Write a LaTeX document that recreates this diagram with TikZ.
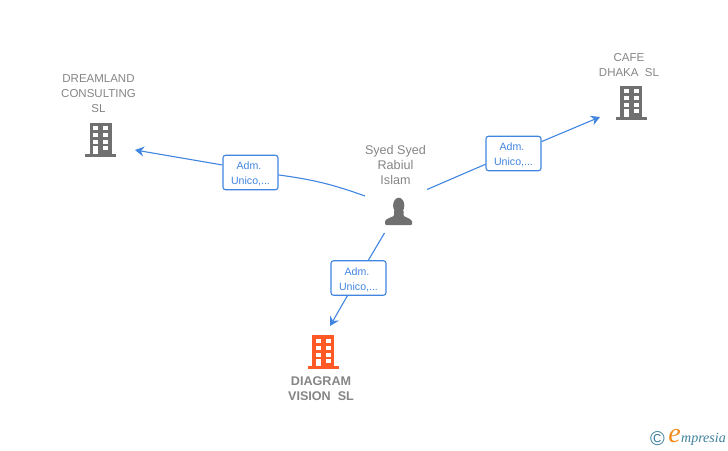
\documentclass[tikz,border=0pt]{standalone}
\usepackage{fontspec}
\setmainfont{Liberation Sans}
\newfontfamily\logofont{Liberation Serif}
\usepackage{xcolor}
\definecolor{linkblue}{HTML}{4085E0}
\definecolor{labelgray}{HTML}{858585}
\definecolor{icongray}{HTML}{707070}
\definecolor{iconorange}{HTML}{FF5A26}
\definecolor{logoblue}{HTML}{3C7F9E}
\definecolor{logoorange}{HTML}{F08A1D}
\usetikzlibrary{arrows.meta}
\tikzset{link/.style={draw=linkblue, line width=1.1pt}}
\tikzset{linkend/.style={link, -{Stealth[length=9pt, width=10pt, inset=3pt]}}}
\tikzset{role/.style={draw=linkblue, line width=1.1pt, fill=white, rounded corners=2.5pt,
  minimum width=55pt, minimum height=34.5pt, inner sep=0pt, align=center,
  text=linkblue, font=\fontsize{10.6}{15}\selectfont}}
\tikzset{entity/.style={text=labelgray, align=center, inner sep=0pt, font=\fontsize{11.5}{15}\selectfont}}
\tikzset{building/.pic={
  \fill[#1] (-11,-17) rectangle (11,14);
  \fill[#1] (-15.5,14) rectangle (15.5,17);
  \foreach \y in {-13.5,-6.5,.5} {
    \fill[white] (-7.5,\y) rectangle (-2.5,\y+4);
    \fill[white] (2.5,\y) rectangle (7.5,\y+4);
  }
  \fill[white] (-7.5,6.5) rectangle (-2.5,14);
  \fill[white] (2.5,6.5) rectangle (7.5,10.5);
}}

\begin{document}
\begin{tikzpicture}[x=1pt, y=-1pt]
\useasboundingbox (0,0) rectangle (728,450);

\node[entity] (dreamland) at (98.5,94) {DREAMLAND\\CONSULTING\\SL};
\pic at (100.5,139.5) {building=icongray};
\node[entity] (cafe) at (629,65.5) {CAFE\\DHAKA\ \ SL};
\pic at (631,102.5) {building=icongray};
\node[entity, font=\fontsize{12.6}{15}\selectfont\bfseries] (diagram) at (321,389) {DIAGRAM\\VISION\ \ SL};
\pic at (323,352) {building=iconorange};
\node[entity, font=\fontsize{12.6}{15}\selectfont] (syed) at (395.5,165) {Syed Syed\\Rabiul\\Islam};

\fill[icongray] (398.7,205.5) ellipse [x radius=5.6, y radius=7.8];
\fill[icongray, rounded corners=1pt] (385,225) -- (385,220.5) -- (388,218.5) -- (394,216) -- (394,210) -- (403.5,210) -- (403.5,216) -- (409,218.5) -- (412,220.5) -- (412,225) -- cycle;

\coordinate (startl) at (365,196);
\coordinate (startr) at (427,189.5);
\coordinate (startb) at (384.5,233);
\coordinate (endl) at (135,150);
\coordinate (endr) at (600,117);
\coordinate (endb) at (330,326);

\node[role] (rolel) at (250.5,172.5) {\strut Adm.\hspace*{3pt}\\Unico,...};
\node[role] (roler) at (513.5,153.5) {\strut Adm.\hspace*{3pt}\\Unico,...};
\node[role] (roleb) at (358.5,278) {\strut Adm.\hspace*{3pt}\\Unico,...};

\draw[link] (startl) to [bend right=6] (rolel.-5);
\draw[linkend] (rolel.165) -- (endl);
\draw[link] (startr) -- (roler.201.6);
\draw[linkend] (roler.23.6) -- (endr);
\draw[link] (startb) -- (roleb.61);
\draw[linkend] (roleb.238) -- (endb);

\node[text=logoblue, inner sep=0pt, font=\fontsize{20}{20}\selectfont] (copyr) at (657.5,438.5) {©};
\node[text=logoorange, inner sep=0pt, font=\logofont\itshape\fontsize{28}{28}\selectfont] (logoe) at (674.5,436.5) {e};
\node[text=logoblue, inner sep=0pt, anchor=west, font=\logofont\itshape\fontsize{14}{14}\selectfont] (logotext) at (681,439) {mpresia};
\end{tikzpicture}
\end{document}
